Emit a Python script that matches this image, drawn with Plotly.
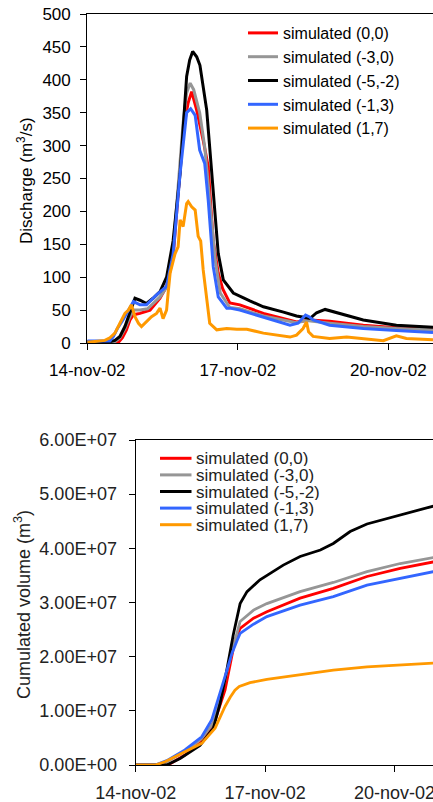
import pandas as pd
import plotly.graph_objects as go

# ---------------- data (days since 14-nov-02 00:00) ----------------
names = ["simulated (0,0)", "simulated (-3,0)", "simulated (-5,-2)", "simulated (-1,3)", "simulated (1,7)"]
colors = ["#FF0000", "#969696", "#000000", "#3366FF", "#FF9900"]

# Discharge (m3/s)
red_t = [0, 0.62, 0.70, 0.78, 0.85, 0.92, 1.05, 1.25, 1.45, 1.58, 1.71, 1.80, 1.88, 1.95, 2.01, 2.08, 2.18, 2.31, 2.41, 2.46, 2.51, 2.61, 2.70, 2.78, 2.84, 3.04, 3.44, 3.51, 4.17, 4.44, 4.83, 5.50, 6.16, 6.89]
red_q = [1, 1, 8, 20, 35, 43, 45, 50, 68, 86, 130, 210, 293, 340, 365, 382, 354, 308, 268, 210, 155, 106, 82, 70, 61, 58, 47, 45, 32, 35, 33, 27, 23, 21]

grey_t = [0, 0.55, 0.65, 0.75, 0.85, 0.92, 1.05, 1.2, 1.45, 1.58, 1.71, 1.85, 1.91, 1.98, 2.05, 2.12, 2.18, 2.24, 2.34, 2.44, 2.55, 2.65, 2.78, 2.84, 3.04, 3.51, 4.17, 4.37, 4.83, 5.50, 6.16, 6.89]
grey_q = [2, 2, 8, 22, 40, 50, 50, 52, 70, 85, 140, 270, 335, 380, 395, 385, 365, 350, 298, 217, 126, 76, 60, 54, 52, 41, 31, 34, 30, 25, 22, 20]

black_t = [0, 0.45, 0.55, 0.65, 0.75, 0.85, 0.95, 1.05, 1.18, 1.31, 1.45, 1.58, 1.71, 1.85, 1.98, 2.04, 2.10, 2.18, 2.245, 2.38, 2.51, 2.61, 2.71, 2.84, 2.91, 3.24, 3.51, 3.91, 4.17, 4.44, 4.57, 4.74, 4.97, 5.23, 5.50, 6.16, 6.89]
black_q = [2, 2, 4, 10, 25, 45, 68, 65, 60, 68, 78, 100, 155, 258, 405, 430, 443, 435, 422, 354, 238, 136, 96, 83, 76, 64, 55, 47, 41, 37.5, 46, 51, 46, 40, 35, 27, 24]

blue_t = [0, 0.45, 0.52, 0.60, 0.71, 0.82, 0.92, 1.05, 1.18, 1.38, 1.58, 1.71, 1.85, 1.98, 2.06, 2.15, 2.24, 2.34, 2.41, 2.51, 2.61, 2.78, 2.84, 3.04, 3.51, 4.04, 4.20, 4.27, 4.35, 4.42, 4.50, 4.83, 5.50, 6.16, 6.89]
blue_q = [3, 3, 10, 22, 35, 50, 63, 58, 58, 73, 86, 135, 258, 350, 356, 346, 293, 273, 217, 116, 70, 53, 53, 50, 39, 27, 30, 36, 42.5, 40, 35, 27, 22, 19, 16]

orange_t = [0, 0.35, 0.45, 0.55, 0.65, 0.75, 0.82, 0.88, 0.95, 1.02, 1.08, 1.18, 1.28, 1.38, 1.45, 1.51, 1.58, 1.61, 1.65, 1.75, 1.81, 1.85, 1.88, 1.91, 1.98, 2.01, 2.08, 2.15, 2.21, 2.26, 2.31, 2.38, 2.44, 2.58, 2.78, 2.98, 3.18, 3.51, 4.04, 4.17, 4.30, 4.37, 4.41, 4.50, 4.83, 5.17, 5.50, 5.90, 6.16, 6.36, 6.89]
orange_q = [1, 4, 8, 15, 30, 45, 50, 58, 40, 30, 25, 33, 40, 45, 53, 37, 50, 75, 106, 136, 146, 187, 182, 177, 212, 215, 207, 202, 162, 155, 111, 65, 30, 20, 22, 21, 21, 15, 9, 12, 22, 32, 17, 10, 7, 9, 7, 3.5, 11, 7, 5]

# Cumulated volume (m3)
red_vt = [0, 0.75, 1.14, 1.53, 1.84, 2.07, 2.30, 2.42, 2.73, 3.04, 3.81, 4.58, 5.36, 6.13, 6.90]
red_v = [0, 0, 1.85e6, 4.3e6, 8.3e6, 1.38e7, 2.3e7, 2.52e7, 2.71e7, 2.83e7, 3.08e7, 3.26e7, 3.48e7, 3.63e7, 3.75e7]

grey_vt = [0, 0.6, 1.14, 1.53, 1.80, 2.0, 2.2, 2.35, 2.42, 2.73, 3.04, 3.81, 4.58, 5.36, 6.13, 6.90]
grey_v = [0, 0, 2.5e6, 4.9e6, 7.8e6, 1.35e7, 2.0e7, 2.45e7, 2.65e7, 2.86e7, 2.98e7, 3.2e7, 3.37e7, 3.57e7, 3.72e7, 3.83e7]

black_vt = [0, 0.72, 1.03, 1.49, 1.80, 1.96, 2.11, 2.26, 2.42, 2.58, 2.88, 3.42, 3.81, 4.28, 4.58, 4.97, 5.36, 6.13, 6.90]
black_v = [0, 0, 1.2e6, 3.6e6, 6.8e6, 1.15e7, 1.75e7, 2.4e7, 2.98e7, 3.2e7, 3.42e7, 3.69e7, 3.85e7, 3.97e7, 4.09e7, 4.31e7, 4.45e7, 4.62e7, 4.78e7]

blue_vt = [0, 0.45, 0.72, 1.14, 1.53, 1.76, 2.0, 2.23, 2.35, 2.42, 2.73, 3.04, 3.81, 4.58, 5.36, 6.13, 6.90]
blue_v = [0, 0, 8e5, 2.8e6, 5.2e6, 8.3e6, 1.45e7, 2.06e7, 2.3e7, 2.43e7, 2.6e7, 2.74e7, 2.95e7, 3.11e7, 3.32e7, 3.45e7, 3.57e7]

orange_vt = [0, 0.45, 0.68, 1.14, 1.53, 1.84, 2.07, 2.19, 2.30, 2.40, 2.65, 3.04, 3.81, 4.58, 5.36, 6.13, 6.90]
orange_v = [0, 0, 6e5, 2.4e6, 4.0e6, 6.8e6, 1.08e7, 1.25e7, 1.38e7, 1.45e7, 1.52e7, 1.58e7, 1.66e7, 1.75e7, 1.81e7, 1.85e7, 1.88e7]

x_tick_dates = ["2002-11-14", "2002-11-17", "2002-11-20"]
x_tick_text = ["14-nov-02", "17-nov-02", "20-nov-02"]
q_ticks = [0, 50, 100, 150, 200, 250, 300, 350, 400, 450, 500]
v_ticks = [0, 1e7, 2e7, 3e7, 4e7, 5e7, 6e7]
v_tick_text = ["0.00E+00", "1.00E+07", "2.00E+07", "3.00E+07", "4.00E+07", "5.00E+07", "6.00E+07"]
x_end_days = 6.89

# ---------------- helpers ----------------
T0 = pd.Timestamp("2002-11-14")
W, H = 433, 802


def to_dates(days):
    return [T0 + pd.Timedelta(days=d) for d in days]


def px(x):
    return x / W


def py(y):
    return 1 - y / H


q_series = [(red_t, red_q), (grey_t, grey_q), (black_t, black_q), (blue_t, blue_q), (orange_t, orange_q)]
v_series = [(red_vt, red_v), (grey_vt, grey_v), (black_vt, black_v), (blue_vt, blue_v), (orange_vt, orange_v)]

FONT = "Liberation Sans, Arial, sans-serif"

fig = go.Figure()
for (t, q), name, c in zip(q_series, names, colors):
    fig.add_trace(go.Scatter(x=to_dates(t), y=q, mode="lines", name=name,
                             line=dict(color=c, width=3), xaxis="x", yaxis="y",
                             showlegend=True, legend="legend"))
for (t, v), name, c in zip(v_series, names, colors):
    fig.add_trace(go.Scatter(x=to_dates(t), y=v, mode="lines", name=name,
                             line=dict(color=c, width=2.8), xaxis="x2", yaxis="y2",
                             showlegend=False))

x_range = [T0, T0 + pd.Timedelta(days=x_end_days)]

common_x = dict(type="date", range=x_range, tickmode="array",
                tickvals=x_tick_dates, ticktext=x_tick_text,
                showgrid=False, zeroline=False, showline=True, mirror=True,
                linecolor="#000000", linewidth=1.3, ticks="outside", ticklen=6,
                tickcolor="#000000", automargin=False, ticklabeloverflow="allow")

fig.update_layout(
    width=W, height=H,
    margin=dict(l=0, r=0, t=0, b=0),
    paper_bgcolor="white", plot_bgcolor="white",
    font=dict(family=FONT, color="#000000"),
    xaxis=dict(domain=[px(87.3), 1], anchor="y",
               tickfont=dict(size=17, color="#000000"), ticklabelstandoff=5, **common_x),
    yaxis=dict(domain=[py(343), py(14)], anchor="x", range=[0, 500],
               tickmode="array", tickvals=q_ticks,
               showgrid=False, zeroline=False, showline=True, linecolor="#000000",
               linewidth=1.3, ticks="outside", ticklen=6, tickcolor="#000000",
               tickfont=dict(size=17, color="#000000"), ticklabelstandoff=6,
               automargin=False),
    xaxis2=dict(domain=[px(135.7), 1], anchor="y2",
                tickfont=dict(size=18, color="#222222"), ticklabelstandoff=5, **common_x),
    yaxis2=dict(domain=[py(765), py(440)], anchor="x2", range=[0, 6e7],
                tickmode="array", tickvals=v_ticks, ticktext=v_tick_text,
                showgrid=False, zeroline=False, showline=True, linecolor="#000000",
                linewidth=1.3, ticks="outside", ticklen=6, tickcolor="#000000",
                tickfont=dict(size=18, color="#222222"), ticklabelstandoff=8,
                automargin=False),
    legend=dict(x=px(243), y=py(16), xanchor="left", yanchor="top",
                bgcolor="rgba(0,0,0,0)", borderwidth=0,
                font=dict(size=16, color="#000000", family=FONT),
                itemwidth=30, tracegroupgap=0),
    showlegend=True,
)

annotations = [
    dict(text="Discharge (m<sup>3</sup>/s)", x=px(25), y=py(181), xref="paper", yref="paper",
         textangle=-90, showarrow=False, font=dict(size=17, color="#000000", family=FONT),
         xanchor="center", yanchor="middle"),
    dict(text="Cumulated volume (m<sup>3</sup>)", x=px(22), y=py(605), xref="paper", yref="paper",
         textangle=-90, showarrow=False, font=dict(size=18, color="#222222", family=FONT),
         xanchor="center", yanchor="middle"),
]

# manual compact legend for the lower chart
shapes = []
leg_y0, leg_dy = 458.3, 16.6
for i, (name, c) in enumerate(zip(names, colors)):
    yy = leg_y0 + i * leg_dy
    shapes.append(dict(type="line", xref="paper", yref="paper",
                       x0=px(160), x1=px(191.5), y0=py(yy), y1=py(yy),
                       line=dict(color=c, width=3)))
    annotations.append(dict(text=name, x=px(194), y=py(yy), xref="paper", yref="paper",
                            showarrow=False, xanchor="left", yanchor="middle",
                            height=16, valign="middle",
                            font=dict(size=17, color="#222222", family=FONT)))

fig.update_layout(annotations=annotations, shapes=shapes)

fig.write_html("out.html",
               config={"displayModeBar": False},
               post_script="document.body.style.margin='0';document.body.style.overflow='hidden';")
